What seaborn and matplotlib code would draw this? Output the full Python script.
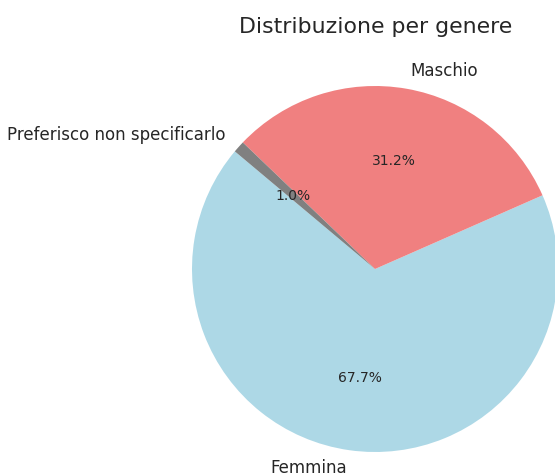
import matplotlib
matplotlib.use("Agg")
import matplotlib.pyplot as plt
import seaborn as sns

sns.set_theme(style="white")
plt.rcParams['font.family'] = ['DejaVu Sans']

labels = ["Femmina", "Maschio", "Preferisco non specificarlo"]
counts = [65, 30, 1]
colors = ["lightblue", "lightcoral", "gray"]
title = "Distribuzione per genere"

W, H = 555, 476
fig = plt.figure(figsize=(W / 100, H / 100), dpi=100)
cx, cy, r = 375, 269, 183
ax = fig.add_axes([(cx - r) / W, (H - cy - r) / H, 2 * r / W, 2 * r / H])

wedges, texts, autotexts = ax.pie(
    counts, labels=labels, colors=colors, autopct="%1.1f%%",
    startangle=140, labeldistance=1.1, pctdistance=0.6,
    wedgeprops={"linewidth": 0, "edgecolor": "none"},
    textprops={"fontsize": 12, "color": "#262626"})
for t in autotexts:
    t.set_fontsize(10)
ax.set_xlim(-1, 1)
ax.set_ylim(-1, 1)
ax.set_aspect("equal")
ax.axis("off")

fig.text(376 / W, 1 - 27 / H, title, ha="center", va="center",
         fontsize=15.8, color="#262626")

fig.savefig("out.png", dpi=100)
